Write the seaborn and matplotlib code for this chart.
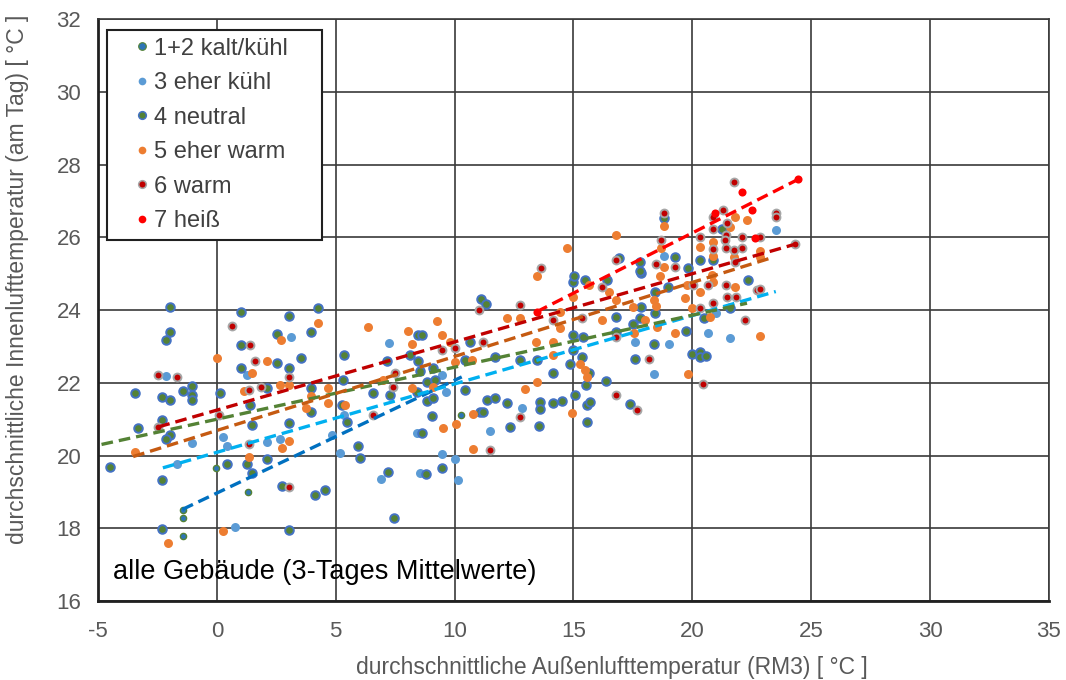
import numpy as np
import pandas as pd
import matplotlib
matplotlib.use("Agg")
import matplotlib.pyplot as plt
from matplotlib.lines import Line2D
import seaborn as sns

# ---------------- data ----------------
labels = ["1+2 kalt/kühl", "3 eher kühl", "4 neutral", "5 eher warm", "6 warm", "7 heiß"]

c12_x = [-1.41, -1.41, -1.41, -0.05, 1.32, 10.27]
c12_y = [18.50, 18.28, 17.80, 19.67, 18.99, 21.11]

c3_x = [3.14, 1.25, -2.15, 5.36, -1.06, 0.27, 0.41, 2.09, 2.65, -1.69, 4.83, 5.18, 0.76,
        7.24, 9.45, 9.66, 12.82, 11.48, 8.40, 9.45, 10.01, 6.89, 8.54, 10.15,
        20.99, 20.66, 21.58, 17.58, 19.03, 18.38, 23.51, 18.80]
c3_y = [23.25, 22.21, 22.19, 21.11, 20.34, 20.50, 20.26, 20.38, 20.47, 19.76, 20.56, 20.06, 18.04,
        23.10, 22.21, 21.76, 21.30, 20.68, 20.63, 20.04, 19.92, 19.35, 19.51, 19.33,
        23.91, 23.38, 23.22, 23.13, 23.07, 22.24, 26.20, 25.48]

c4_x = [-1.97, 1.01, 4.26, 3.03, -1.97, -2.15, 2.54, 3.94, 1.01, 2.54, 3.52, 1.01, 3.03, 5.36,
        2.09, -1.06, -1.41, -3.44, -2.32, -1.99, -1.03, -1.03, 0.14, 3.94, 3.96, 5.25, 1.39,
        -2.32, -3.33, -1.97, -2.15, 1.46, 3.03, 2.09, -4.50, 0.42, 1.25, 1.49, -2.32, 2.72,
        4.13, 4.55, -2.29, 3.03,
        11.13, 11.32, 14.99, 8.47, 8.65, 10.64, 8.12, 8.47, 7.14, 8.54, 9.10, 10.43, 11.69,
        12.75, 13.45, 14.99, 14.99, 15.41, 14.15, 14.85, 5.32, 8.82, 9.17, 6.58, 7.28, 8.40,
        8.82, 9.10, 10.43, 11.35, 11.69, 12.19, 13.59, 13.59, 14.15, 14.50, 15.06, 15.55,
        15.55, 5.46, 9.07, 11.06, 11.20, 12.33, 13.56, 8.61, 5.95, 6.02, 9.45, 7.21, 8.79, 7.45,
        17.86, 15.48, 16.39, 17.86, 18.42, 18.98, 22.35, 21.58, 20.47, 16.81, 17.79, 18.42,
        17.51, 16.81, 19.73, 18.38, 17.58, 19.97, 20.34, 20.34, 20.59, 15.38, 15.66, 15.52,
        16.36, 17.37, 15.69, 18.80, 21.23, 19.26, 20.34, 20.88, 17.81, 16.92, 19.82, 17.81, 15.02]
c4_y = [24.09, 23.95, 24.07, 23.84, 23.40, 23.19, 23.34, 23.40, 23.04, 22.55, 22.67, 22.42, 22.40, 22.76,
        21.85, 21.91, 21.78, 21.73, 21.60, 21.54, 21.66, 21.54, 21.73, 21.85, 21.20, 21.39, 21.39,
        20.99, 20.75, 20.56, 20.45, 20.83, 20.90, 19.92, 19.69, 19.76, 19.76, 19.51, 19.33, 19.17,
        18.91, 19.05, 17.98, 17.95,
        24.30, 24.16, 24.78, 23.31, 23.31, 23.13, 22.76, 22.60, 22.60, 22.33, 22.42, 22.62, 22.71,
        22.62, 22.62, 23.31, 22.90, 23.27, 22.28, 22.53, 22.07, 22.03, 22.07, 21.71, 21.66, 21.76,
        21.51, 21.57, 21.80, 21.53, 21.57, 21.45, 21.48, 21.27, 21.45, 21.51, 21.66, 21.39,
        20.93, 20.93, 21.09, 21.20, 21.20, 20.79, 20.81, 20.63, 20.27, 19.94, 19.65, 19.54, 19.49, 18.28,
        25.03, 24.84, 24.84, 24.09, 24.50, 24.64, 24.82, 24.05, 23.77, 23.82, 23.77, 23.93,
        23.63, 23.40, 23.42, 23.08, 22.65, 22.79, 22.85, 22.72, 22.74, 22.72, 22.28, 21.94,
        22.06, 21.42, 21.48, 26.52, 26.23, 25.47, 25.37, 25.37, 25.33, 25.42, 25.15, 25.08, 24.93]

c5_x = [4.26, 2.68, -0.01, 2.12, 1.49, 2.65, 3.03, 1.15, 4.69, 3.96, 3.73, 4.69, 3.03, 2.75,
        1.35, -3.44, -2.04, 0.27,
        12.19, 12.75, 14.99, 14.43, 14.43, 6.37, 9.27, 8.05, 9.48, 8.19, 9.80, 10.01, 10.72,
        13.42, 14.15, 14.15, 15.27, 15.48, 15.55, 6.97, 8.19, 9.10, 12.96, 13.45, 14.92, 5.39,
        10.78, 9.52, 10.08, 10.78,
        18.63, 15.66, 16.50, 16.81, 17.51, 18.38, 18.49, 19.76, 19.68, 20.34, 20.81, 20.88,
        21.79, 19.97, 20.76, 18.00, 16.18, 17.54, 18.52, 19.26, 22.84, 19.82, 18.80, 21.79,
        22.28, 21.60, 16.81, 18.70, 20.32, 20.85, 22.84, 22.84, 21.74, 20.85, 18.80, 14.71, 13.45]
c5_y = [23.65, 23.19, 22.67, 22.60, 22.26, 21.94, 21.94, 21.77, 21.85, 21.64, 21.32, 21.45, 20.41, 20.21,
        19.97, 20.10, 17.60, 17.94,
        23.77, 23.77, 24.37, 23.95, 23.50, 23.54, 23.70, 23.43, 23.31, 23.08, 23.13, 22.58, 22.64,
        23.13, 23.13, 22.76, 22.53, 22.35, 22.17, 22.09, 21.85, 21.89, 21.82, 22.03, 21.16, 21.39,
        21.13, 20.77, 20.88, 20.17,
        24.93, 24.69, 24.50, 24.27, 24.09, 24.29, 24.11, 24.69, 24.32, 24.50, 24.96, 24.78,
        24.64, 24.05, 23.82, 23.74, 23.74, 23.36, 23.54, 23.38, 23.28, 22.24, 26.31, 26.57,
        26.47, 26.27, 26.06, 25.70, 25.74, 25.88, 25.63, 25.47, 25.47, 25.48, 25.19, 25.70, 24.93]

c6_x = [0.62, 1.39, 1.60, 3.03, -2.46, -1.68, 1.85, 1.35, 0.09, -2.46, 1.35, 3.03,
        11.04, 12.75, 14.15, 10.01, 11.20, 9.45, 7.49, 7.42, 6.58, 12.75, 11.48,
        16.22, 20.03, 20.66, 21.41, 21.44, 21.83, 22.70, 22.84, 20.88, 20.34, 22.23, 15.34,
        16.78, 18.18, 20.43, 16.78, 17.68, 21.76, 18.80, 20.88, 21.30, 23.50, 23.50, 21.44,
        20.85, 21.41, 20.32, 18.70, 20.88, 21.36, 21.41, 21.74, 22.11, 22.11, 22.84, 24.31,
        21.79, 18.49, 19.26, 16.78, 13.63]
c6_y = [23.57, 23.04, 22.60, 22.17, 22.21, 22.17, 21.89, 21.80, 21.11, 20.79, 20.32, 19.14,
        24.00, 24.14, 23.73, 22.95, 23.13, 22.90, 22.26, 21.89, 21.11, 21.07, 20.15,
        24.64, 24.69, 24.69, 24.69, 24.37, 24.37, 24.55, 24.57, 24.20, 24.05, 23.74, 23.77,
        23.25, 22.65, 21.97, 21.66, 21.25, 27.53, 26.68, 26.57, 26.75, 26.68, 26.57, 26.40,
        26.22, 26.06, 26.02, 25.94, 25.67, 25.92, 25.70, 25.65, 26.00, 25.72, 26.02, 25.81,
        25.33, 25.28, 25.19, 25.39, 25.16]

c7_x = [13.45, 22.09, 24.45, 20.94, 22.53, 22.65]
c7_y = [23.95, 27.24, 27.59, 26.66, 26.75, 25.97]

# trend lines: slope, intercept, x start, x end
trend_slope = [0.310, 0.188, 0.143, 0.2035, 0.1875, 0.331]
trend_icpt = [18.97, 20.09, 21.00, 20.69, 21.25, 19.50]
trend_x0 = [-1.45, -2.27, -4.85, -3.52, -2.46, 13.45]
trend_x1 = [10.30, 23.51, 22.30, 23.26, 24.31, 24.45]

xs_all = [c12_x, c3_x, c4_x, c5_x, c6_x, c7_x]
ys_all = [c12_y, c3_y, c4_y, c5_y, c6_y, c7_y]

# ---------------- style ----------------
face = ["#2E75B6", "#5B9BD5", "#548235", "#ED7D31", "#C00000", "#FF0000"]
edge = ["#548235", "#5B9BD5", "#4472C4", "#ED7D31", "#A6A6A6", "#FF0000"]
ewid = [1.0, 0.0, 1.4, 0.0, 1.4, 0.0]
msize = [20, 42, 38, 42, 32, 34]
line_col = ["#0070C0", "#00B0F0", "#548235", "#C55A11", "#C00000", "#FF0000"]

sns.set_theme(style="white")
plt.rcParams["font.family"] = ["Liberation Sans", "DejaVu Sans"]
plt.rcParams["axes.unicode_minus"] = False

fig = plt.figure(figsize=(10.66, 6.8), dpi=100)
ax = fig.add_axes([0.0919, 0.116, 0.8921, 0.856])

frames = []
for lab, xs, ys in zip(labels, xs_all, ys_all):
    frames.append(pd.DataFrame({"x": xs, "y": ys, "cat": lab}))
df = pd.concat(frames, ignore_index=True)

for i, lab in enumerate(labels):
    sub = df[df["cat"] == lab]
    sns.scatterplot(data=sub, x="x", y="y", ax=ax, color=face[i], edgecolor=edge[i],
                    linewidth=ewid[i], s=msize[i], zorder=3 + i * 0.01, legend=False)

for i in range(len(labels)):
    xx = np.array([trend_x0[i], trend_x1[i]])
    yy = trend_slope[i] * xx + trend_icpt[i]
    ax.plot(xx, yy, color=line_col[i], lw=2.4, linestyle=(0, (3.5, 1.8)), zorder=4)

ax.set_xlim(-5, 35)
ax.set_ylim(16, 32)
ax.set_xticks(np.arange(-5, 36, 5))
ax.set_yticks(np.arange(16, 33, 2))
ax.grid(True, color="#3A3A3A", lw=1.2, zorder=0)
ax.set_axisbelow(True)
for s in ["top", "right"]:
    ax.spines[s].set_color("#3A3A3A")
    ax.spines[s].set_linewidth(1.2)
for s in ["left", "bottom"]:
    ax.spines[s].set_color("#202020")
    ax.spines[s].set_linewidth(2.0)
ax.tick_params(axis="both", length=0, labelsize=16, labelcolor="#595959")
ax.tick_params(axis="x", pad=14)
ax.tick_params(axis="y", pad=12)

ax.set_xlabel("durchschnittliche Außenlufttemperatur (RM3) [ °C ]", fontsize=16.5, color="#595959")
ax.set_ylabel("durchschnittliche Innenlufttemperatur (am Tag) [ °C ]", fontsize=16.5, color="#595959")
ax.xaxis.set_label_coords(0.54, -0.094)
ax.yaxis.set_label_coords(-0.073, 0.552)

ax.text(-4.37, 16.8, "alle Gebäude (3-Tages Mittelwerte)", fontsize=19.5, color="black",
        va="center", ha="left", zorder=6)

handles = [Line2D([0], [0], marker="o", linestyle="none", markersize=5.5,
                  markerfacecolor=face[i], markeredgecolor=edge[i],
                  markeredgewidth=max(ewid[i] * 0.8, 0.01)) for i in range(len(labels))]
leg = ax.legend(handles, labels, loc="upper left", mode="expand",
                bbox_to_anchor=(0.0095, 0.5, 0.226, 0.481),
                fontsize=17, frameon=True, fancybox=False, labelspacing=0.53,
                handletextpad=-0.66, borderpad=0.32, handlelength=2.33, borderaxespad=0)
leg.get_frame().set_edgecolor("#202020")
leg.get_frame().set_linewidth(1.5)
leg.get_frame().set_alpha(1)
for t in leg.get_texts():
    t.set_color("#404040")
leg.set_zorder(10)

fig.savefig("out.png", dpi=100, facecolor="white")
